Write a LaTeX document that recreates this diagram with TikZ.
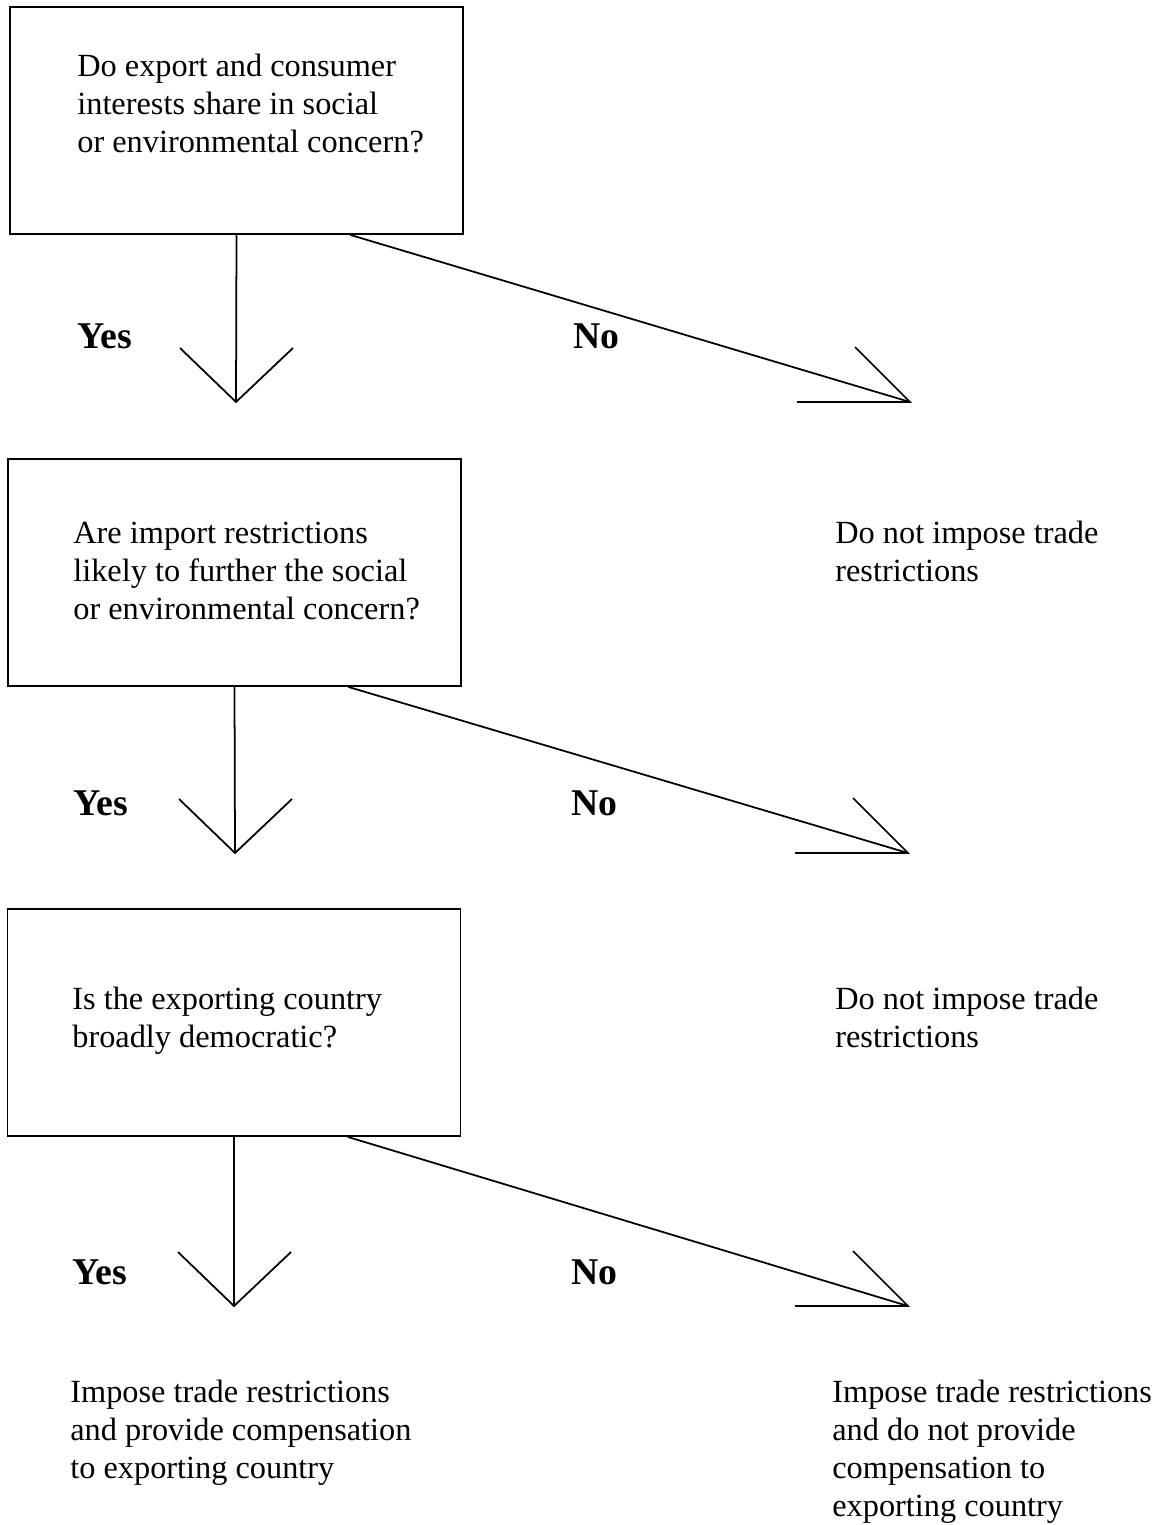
\documentclass[tikz,border=0pt]{standalone}
\usepackage{fontspec}
\setmainfont{Liberation Serif}
\usetikzlibrary{calc}
\tikzstyle{question} = [
  draw=black,
  line width=1pt,
  minimum width=453*0.02cm,
  minimum height=227*0.02cm,
  inner sep=0pt,
]
\tikzstyle{answer} = [
  anchor=base west,
  align=left,
  inner sep=0pt,
  font=\fontsize{18.4}{21.6}\selectfont,
]
\tikzstyle{choice} = [
  anchor=base west,
  inner sep=0pt,
  font=\fontsize{21.5}{24}\selectfont\bfseries,
]
\tikzstyle{flow} = [line width=1pt]
% open heads, drawn by hand
\newcommand{\downhead}[1]{\draw[flow] (#1) ++(-56,-54) -- (#1) -- ++(57,-54);}
\newcommand{\sidehead}[1]{\draw[flow] (#1) ++(-55,-55) -- (#1) -- ++(-113,0);}

\begin{document}
\begin{tikzpicture}[x=0.02cm,y=-0.02cm]
  \useasboundingbox (0,0) rectangle (1160,1525);

  % Boxes
  \node[question] (q1box) at (236.5,120.5) {};
  \node[question] (q2box) at (234.5,572.5) {};
  \node[question] (q3box) at (234,1022.5) {};

  % (text nodes sit on the baseline of their last line)
  \node[answer] (q1) at (77,152) {Do export and consumer\\interests share in social\\or environmental concern?};
  \node[answer] (q2) at (73,619) {Are import restrictions\\likely to further the social\\or environmental concern?};
  \node[answer] (q3) at (72,1047) {Is the exporting country\\broadly democratic?};

  % Tips
  \coordinate (y1) at (236,402);
  \coordinate (n1) at (910,402);
  \coordinate (y2) at (235,853);
  \coordinate (n2) at (908,853);
  \coordinate (y3) at (234,1306);
  \coordinate (n3) at (908,1306);

  % Connectors
  \draw[flow] (q1box.south) -- (y1);
  \draw[flow] ($(q1box.south)!0.5!(q1box.south east)$) -- (n1);
  \draw[flow] (q2box.south) -- (y2);
  \draw[flow] ($(q2box.south)!0.5!(q2box.south east)$) -- (n2);
  \draw[flow] (q3box.south) -- (y3);
  \draw[flow] ($(q3box.south)!0.5!(q3box.south east)$) -- (n3);
  \downhead{y1} \sidehead{n1}
  \downhead{y2} \sidehead{n2}
  \downhead{y3} \sidehead{n3}

  % Labels
  \node[choice] (yes1) at (77,348) {Yes};
  \node[choice] (no1) at (573,348) {No};
  \node[choice] (yes2) at (73,815) {Yes};
  \node[choice] (no2) at (571,815) {No};
  \node[choice] (yes3) at (72,1284) {Yes};
  \node[choice] (no3) at (571,1284) {No};

  % Outcomes
  \node[answer] (stop1) at (835,581) {Do not impose trade\\restrictions};
  \node[answer] (stop2) at (835,1047) {Do not impose trade\\restrictions};
  \node[answer] (comp) at (70,1478) {Impose trade restrictions\\and provide compensation\\to exporting country};
  \node[answer] (nocomp) at (832,1516) {Impose trade restrictions\\and do not provide\\compensation to\\exporting country};
\end{tikzpicture}
\end{document}
